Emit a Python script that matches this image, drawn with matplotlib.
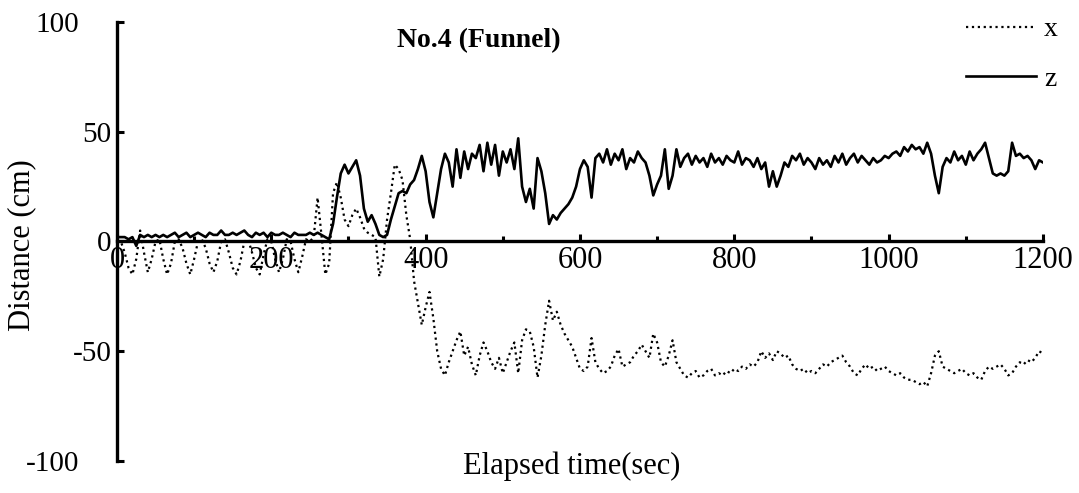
import numpy as np
import matplotlib
matplotlib.use("Agg")
import matplotlib.pyplot as plt
from matplotlib.ticker import MultipleLocator

plt.rcParams['font.family'] = ['Liberation Serif', 'DejaVu Serif']
plt.rcParams['axes.unicode_minus'] = False

# time grid (sec), one sample every 5 s
t = np.arange(0, 1201, 5)

# x distance (cm), one line = 100 s
x_cm = [
    0, 0, -5, -12, -15, -8, 5, -5, -14, -8, 0, 1, -8, -15, -10, 0, 1, -3, -10, -15,
    -8, 0, 1, -3, -10, -14, -9, 0, 1, -5, -12, -15, -9, 0, 1, -5, -12, -15, -6, 1,
    0, -8, -14, -8, 1, 0, -8, -14, -7, 1, 0, 2, 20, 3, -15, -10, 22, 27, 20, 10,
    7, 12, 15, 11, 6, 4, 3, 2, -16, -8, 10, 22, 35, 33, 28, 12, 1, -18, -28, -38,
    -30, -23, -35, -50, -58, -61, -55, -50, -45, -41, -52, -48, -56, -61, -52, -46, -50, -55, -58, -53,
    -60, -55, -50, -46, -60, -45, -40, -41, -48, -62, -52, -38, -27, -36, -32, -38, -42, -45, -48, -53,
    -58, -59, -57, -44, -55, -58, -60, -59, -57, -52, -49, -57, -56, -55, -52, -50, -47, -50, -53, -42,
    -46, -55, -57, -52, -45, -55, -58, -61, -62, -60, -59, -62, -61, -59, -58, -61, -60, -61, -59, -60,
    -58, -59, -57, -58, -56, -57, -55, -50, -53, -51, -54, -50, -51, -53, -52, -56, -58, -59, -58, -60,
    -59, -60, -58, -56, -57, -55, -54, -53, -52, -55, -57, -60, -61, -58, -56, -58, -57, -59, -58, -57,
    -59, -60, -61, -60, -62, -63, -63, -64, -65, -64, -66, -60, -52, -50, -57, -58, -59, -60, -59, -58,
    -60, -61, -60, -62, -63, -59, -57, -58, -57, -56, -58, -61, -60, -57, -55, -56, -54, -55, -53, -50,
    -51,
]

# z distance (cm)
z_cm = [
    2, 2, 2, 1, 2, -2, 3, 2, 3, 2, 3, 2, 3, 2, 3, 4, 2, 3, 4, 2,
    3, 4, 3, 2, 4, 3, 3, 5, 3, 3, 4, 3, 4, 5, 3, 2, 4, 3, 4, 2,
    4, 3, 3, 4, 3, 2, 4, 3, 3, 3, 4, 3, 4, 3, 2, 1, 8, 20, 31, 35,
    31, 34, 37, 30, 15, 9, 12, 8, 3, 2, 3, 10, 16, 22, 23, 22, 26, 28, 33, 39,
    32, 18, 11, 22, 33, 40, 36, 25, 42, 29, 41, 33, 40, 38, 44, 32, 45, 35, 44, 30,
    41, 36, 42, 33, 47, 25, 18, 24, 15, 38, 32, 22, 8, 12, 10, 13, 15, 17, 20, 25,
    33, 37, 34, 20, 38, 40, 36, 42, 35, 40, 37, 42, 33, 38, 36, 41, 38, 36, 30, 21,
    26, 30, 42, 24, 30, 42, 34, 38, 40, 35, 39, 36, 38, 34, 40, 36, 38, 35, 39, 37,
    36, 41, 35, 38, 37, 34, 38, 33, 36, 25, 32, 25, 30, 36, 34, 39, 37, 40, 35, 38,
    36, 33, 38, 35, 37, 34, 39, 36, 40, 35, 38, 40, 36, 39, 37, 35, 38, 36, 37, 39,
    38, 40, 41, 39, 43, 41, 44, 42, 43, 40, 45, 40, 30, 22, 34, 38, 36, 41, 37, 39,
    35, 41, 37, 40, 42, 45, 38, 31, 30, 31, 30, 32, 45, 39, 40, 38, 39, 37, 33, 37,
    36,
]

assert len(x_cm) == len(t) and len(z_cm) == len(t)

fig = plt.figure(figsize=(10.79, 4.93), dpi=100)
ax = fig.add_axes([0.1084, 0.0649, 0.8582, 0.8905])

ax.plot(t, x_cm, color='black', linestyle=':', linewidth=1.6, label='x')
ax.plot(t, z_cm, color='black', linestyle='-', linewidth=1.9, label='z')

ax.set_xlim(0, 1200)
ax.set_ylim(-100, 100)

# axis look: zero line as the x axis, no top/right frame
ax.spines['top'].set_visible(False)
ax.spines['right'].set_visible(False)
ax.spines['bottom'].set_position(('data', 0))
ax.spines['bottom'].set_linewidth(2.4)
ax.spines['left'].set_linewidth(2.4)

ax.xaxis.set_major_locator(MultipleLocator(200))
ax.xaxis.set_minor_locator(MultipleLocator(100))
ax.yaxis.set_major_locator(MultipleLocator(50))
ax.tick_params(axis='x', which='major', direction='in', length=5, width=2.2, labelsize=22, pad=3)
ax.tick_params(axis='x', which='minor', direction='in', length=3.5, width=2.2)
ax.tick_params(axis='y', which='major', direction='in', length=5, width=2.2, labelsize=21, pad=4)
for tk, val in zip(ax.yaxis.get_major_ticks(), ax.get_yticks()):
    if abs(val) == 100:
        tk.set_pad(27)

ax.set_xlabel('Elapsed time(sec)', fontsize=22)
ax.xaxis.set_label_coords(0.491, 0.022)
ax.set_ylabel('Distance (cm)', fontsize=22)
ax.yaxis.set_label_coords(-0.087, 0.492)

ax.text(0.391, 0.958, 'No.4 (Funnel)', transform=ax.transAxes, fontsize=20,
        fontweight='bold', ha='center', va='center')

ax.legend(loc='upper right', bbox_to_anchor=(1058 / 1079, 1 - 17 / 493),
          bbox_transform=fig.transFigure, frameon=False, fontsize=20,
          handlelength=2.5, handletextpad=0.3, labelspacing=0.85,
          borderpad=0, borderaxespad=0)

fig.savefig('out.png', dpi=100)
